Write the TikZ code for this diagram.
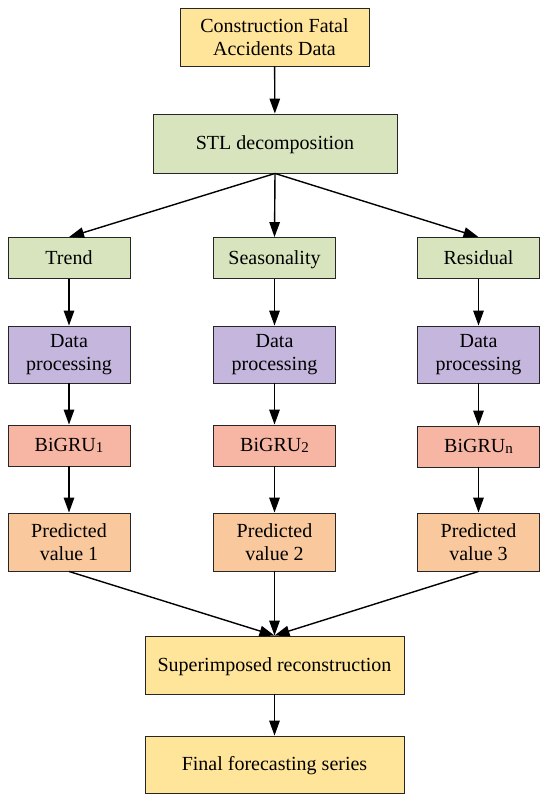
\documentclass[tikz,border=0pt]{standalone}
\usepackage{fontspec}
\setmainfont{Liberation Serif}
\usetikzlibrary{arrows.meta}
\definecolor{cyellow}{HTML}{FFE59A}
\definecolor{cgreen}{HTML}{D7E4BD}
\definecolor{cpurple}{HTML}{C4B6DC}
\definecolor{cred}{HTML}{F7B5A3}
\definecolor{corange}{HTML}{F9C89D}
\tikzset{
  box/.style={draw=black!85, line width=0.9pt, inner sep=0pt, align=center,
    font=\fontsize{20}{23}\selectfont},
  oneline/.style={box, text height=17pt, text depth=4.5pt},
  conn/.style={-{Triangle[length=15pt,width=10.5pt]}, line width=1.4pt, black},
}
\newcommand{\smallsub}[1]{\raisebox{-0.5pt}{\fontsize{15}{15}\selectfont #1}}
\begin{document}
\begin{tikzpicture}[x=1pt,y=-1pt]
\useasboundingbox (0,0) rectangle (550,801);
\node[box, fill=cyellow, minimum width=189pt, minimum height=58pt] (top) at (274.5,37) {Construction Fatal\\Accidents Data};
\node[oneline, fill=cgreen, minimum width=244pt, minimum height=59pt] (stl) at (275,143.5) {STL decomposition};
\foreach \n/\x/\t in {a/69/Trend, b/274.5/Seasonality, c/478.5/Residual}{
  \node[oneline, fill=cgreen, minimum width=122pt, minimum height=41pt] (c1\n) at (\x,258) {\t};
  \node[box, fill=cpurple, minimum width=122pt, minimum height=57pt] (c2\n) at (\x,354.5) {Data\\processing};
}
\node[oneline, fill=cred, minimum width=122pt, minimum height=41pt] (c3a) at (69,445.5) {BiGRU\smallsub{1}};
\node[oneline, fill=cred, minimum width=122pt, minimum height=41pt] (c3b) at (274.5,445.5) {BiGRU\smallsub{2}};
\node[oneline, fill=cred, minimum width=122pt, minimum height=41pt] (c3c) at (478.5,446.5) {BiGRU\smallsub{n}};
\node[box, fill=corange, minimum width=122pt, minimum height=58pt] (c4a) at (69,542) {Predicted\\value 1};
\node[box, fill=corange, minimum width=122pt, minimum height=58pt] (c4b) at (274.5,542) {Predicted\\value 2};
\node[box, fill=corange, minimum width=122pt, minimum height=58pt] (c4c) at (478.5,542) {Predicted\\value 3};
\node[oneline, fill=cyellow, minimum width=259pt, minimum height=58pt] (sup) at (274.5,665) {Superimposed reconstruction};
\node[oneline, fill=cyellow, minimum width=259pt, minimum height=57pt] (fin) at (274.5,764.5) {Final forecasting series};

\draw[conn] (top) -- (stl);
\foreach \n in {a,b,c}{
  \draw[conn] (stl.south) -- (c1\n.north);
  \draw[conn] (c1\n) -- (c2\n);
  \draw[conn] (c2\n) -- (c3\n);
  \draw[conn] (c3\n) -- (c4\n);
  \draw[conn] (c4\n.south) -- (sup.north);
}
\draw[conn] (sup) -- (fin);
\end{tikzpicture}
\end{document}
